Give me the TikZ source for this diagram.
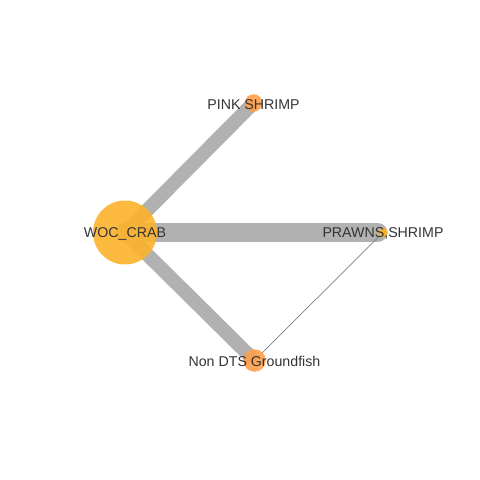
\documentclass[tikz,border=0pt]{standalone}
\usepackage{fontspec}
\setmainfont{Liberation Sans}
\usepackage{tikz}
\usetikzlibrary{calc}
\definecolor{crab}{HTML}{FDB32B}
\definecolor{shrimp}{HTML}{FF9F4C}
\definecolor{edgegray}{HTML}{B1B1B1}
\definecolor{labelgray}{HTML}{333333}
\tikzstyle{edge} = [edgegray,line cap=round]
\tikzstyle{vertex} = [circle,inner sep=0pt,opacity=0.9]
\tikzstyle{lbl} = [text=labelgray,font=\fontsize{10.1}{12}\selectfont,inner sep=0pt]

\begin{document}
\begin{tikzpicture}[x=0.025cm,y=-0.025cm]
            \useasboundingbox (0,0) rectangle (480,480);
            % vertex centres
            \coordinate (W) at (125,232.5);
            \coordinate (P) at (253.5,103);
            \coordinate (R) at (383,232.5);
            \coordinate (N) at (254.5,360.5);

            % edges
            \draw[edge,line width=9.9pt,shorten >=4pt] (W) -- (P);
            \draw[edge,line width=14.2pt,shorten >=4pt] (W) -- (R);
            \draw[edge,line width=9.9pt,shorten >=4pt] (W) -- (N);
            \draw[gray,line width=0.5pt] (R) -- (N);

            % vertices
            \node[vertex,fill=crab,minimum size=45.5pt] (crab) at (W) {};
            \node[vertex,fill=shrimp,minimum size=12.5pt] (pink) at (P) {};
            \node[vertex,fill=crab,minimum size=7pt] (prawns) at (R) {};
            \node[vertex,fill=shrimp,minimum size=16pt] (ground) at (N) {};

            % labels
            \node[lbl,yshift=-1pt] at (crab) {WOC\_CRAB};
            \node[lbl,yshift=-1pt] at (pink) {PINK SHRIMP};
            \node[lbl,yshift=-1pt] at (prawns) {PRAWNS,SHRIMP};
            \node[lbl,yshift=-1pt] at (ground) {Non DTS Groundfish};
        \end{tikzpicture}
\end{document}
